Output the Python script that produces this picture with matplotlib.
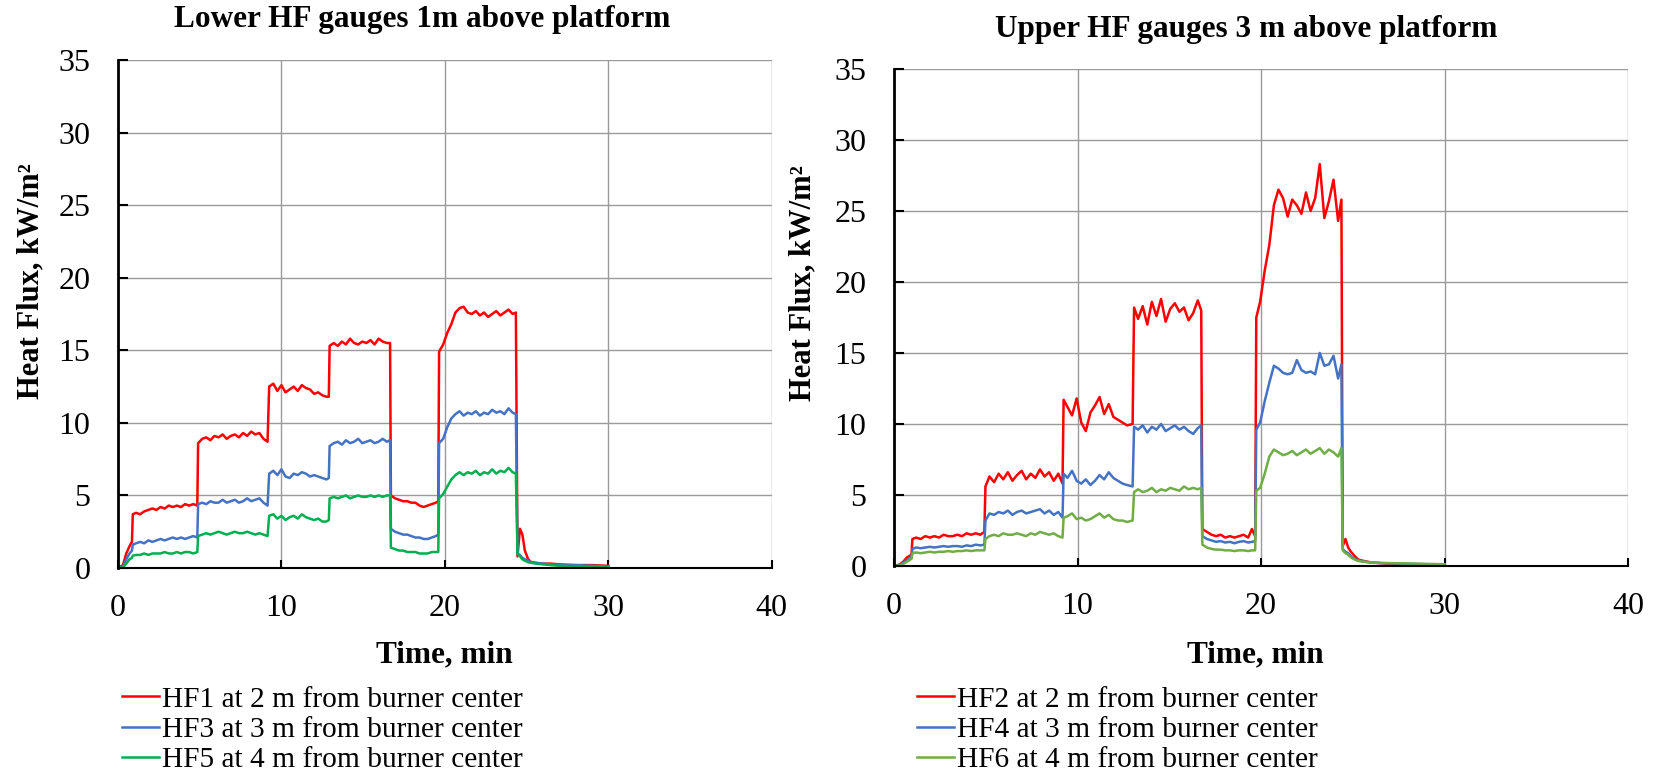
import matplotlib
matplotlib.use("Agg")
import matplotlib.pyplot as plt

plt.rcParams['font.family'] = ['Liberation Serif', 'DejaVu Serif']

# sample times (min), lower gauges panel
t_low = [0, 0.3, 0.5, 0.7, 0.85, 0.9,
         1.1, 1.35, 1.6, 1.85, 2.1, 2.35, 2.6, 2.85, 3.1, 3.35, 3.6, 3.85, 4.1, 4.35, 4.6, 4.85,
         4.9,
         5.15, 5.4, 5.65, 5.9, 6.15, 6.4, 6.65, 6.9, 7.15, 7.4, 7.65, 7.9, 8.15, 8.4, 8.65, 8.9, 9.15,
         9.25,
         9.5, 9.75, 10.0, 10.25, 10.5, 10.75, 11.0, 11.25, 11.5, 11.75, 12.0, 12.25, 12.5, 12.75, 12.9,
         12.95,
         13.2, 13.45, 13.7, 13.95, 14.2, 14.45, 14.7, 14.95, 15.2, 15.45, 15.7, 15.95, 16.2, 16.45, 16.65,
         16.7,
         16.95, 17.2, 17.45, 17.7, 17.95, 18.2, 18.45, 18.7, 18.95, 19.2, 19.45, 19.6,
         19.65,
         19.9, 20.15, 20.4, 20.65, 20.9, 21.15, 21.4, 21.65, 21.9, 22.15, 22.4, 22.65, 22.9, 23.15, 23.4,
         23.65, 23.9, 24.15, 24.35,
         24.45,
         24.6, 24.75, 24.9, 25.1, 25.3, 25.6, 26.0, 26.5, 27, 28, 29, 30]

hf1 = [0, 0.2, 1.0, 1.5, 1.8, 3.7,
       3.8, 3.7, 3.9, 4.0, 4.1, 4.0, 4.2, 4.1, 4.3, 4.2, 4.3, 4.2, 4.4, 4.3, 4.4, 4.3,
       8.6,
       8.9, 9.0, 8.8, 9.1, 9.0, 9.2, 8.9, 9.1, 9.2, 9.0, 9.3, 9.1, 9.4, 9.2, 9.3, 8.9, 8.7,
       12.5,
       12.7, 12.2, 12.6, 12.1, 12.3, 12.5, 12.2, 12.6, 12.4, 12.3, 12.0, 12.1, 11.9, 11.8, 11.8,
       15.3,
       15.5, 15.3, 15.6, 15.4, 15.8, 15.5, 15.4, 15.6, 15.5, 15.7, 15.4, 15.8, 15.6, 15.5, 15.5,
       5.0,
       4.8, 4.7, 4.6, 4.6, 4.5, 4.5, 4.3, 4.2, 4.3, 4.4, 4.5, 4.6,
       14.9,
       15.4, 16.2, 16.8, 17.6, 17.9, 18.0, 17.6, 17.5, 17.7, 17.4, 17.6, 17.3, 17.5, 17.7, 17.4,
       17.6, 17.8, 17.5, 17.6,
       0.8,
       2.7, 2.3, 1.2, 0.6, 0.4, 0.35, 0.3, 0.3, 0.25, 0.2, 0.2, 0.15]

hf3 = [0, 0.1, 0.6, 1.0, 1.2, 1.6,
       1.7, 1.8, 1.7, 1.9, 1.8, 1.9, 2.0, 1.9, 2.0, 2.1, 2.0, 2.1, 2.0, 2.1, 2.2, 2.1,
       4.4,
       4.5, 4.4, 4.6, 4.5, 4.5, 4.7, 4.5, 4.6, 4.7, 4.5, 4.6, 4.8, 4.6, 4.7, 4.8, 4.5, 4.3,
       6.5,
       6.7, 6.4, 6.8, 6.3, 6.2, 6.5, 6.4, 6.6, 6.5, 6.3, 6.4, 6.3, 6.2, 6.1, 6.2,
       8.4,
       8.6, 8.7, 8.5, 8.8, 8.6, 8.7, 8.9, 8.6, 8.7, 8.8, 8.6, 8.7, 8.9, 8.7, 8.8,
       2.7,
       2.5, 2.4, 2.3, 2.3, 2.2, 2.1, 2.1, 2.0, 2.0, 2.1, 2.2, 2.3,
       8.6,
       8.9, 9.7, 10.3, 10.6, 10.8, 10.5, 10.7, 10.6, 10.8, 10.5, 10.7, 10.6, 10.9, 10.7, 10.8,
       10.6, 11.0, 10.7, 10.6,
       1.0,
       0.9, 0.7, 0.6, 0.5, 0.4, 0.35, 0.3, 0.25, 0.2, 0.2, 0.15, 0.1]

hf5 = [0, 0.05, 0.3, 0.6, 0.7, 0.85,
       0.9, 0.9, 1.0, 0.9, 1.0, 1.0, 1.0, 1.1, 1.0, 1.0, 1.1, 1.0, 1.1, 1.1, 1.0, 1.1,
       2.2,
       2.3, 2.4, 2.3, 2.4, 2.5, 2.4, 2.3, 2.4, 2.5, 2.4, 2.4, 2.5, 2.4, 2.3, 2.4, 2.3, 2.2,
       3.6,
       3.7, 3.4, 3.6, 3.3, 3.5, 3.6, 3.4, 3.7, 3.5, 3.4, 3.3, 3.4, 3.2, 3.2, 3.3,
       4.8,
       4.9, 4.8, 4.9, 5.0, 4.8, 4.9, 5.0, 4.9, 4.9, 5.0, 4.9, 5.0, 4.9, 5.0, 5.0,
       1.4,
       1.3, 1.2, 1.2, 1.1, 1.1, 1.1, 1.0, 1.0, 1.0, 1.1, 1.1, 1.1,
       4.8,
       5.1, 5.6, 6.1, 6.4, 6.6, 6.4, 6.6, 6.5, 6.7, 6.4, 6.6, 6.5, 6.8, 6.5, 6.7,
       6.6, 6.9, 6.6, 6.5,
       1.0,
       0.8, 0.6, 0.5, 0.4, 0.35, 0.3, 0.25, 0.2, 0.15, 0.1, 0.1, 0.05]

# sample times (min), upper gauges panel
t_up = [0, 0.3, 0.5, 0.7, 0.95, 1.0,
        1.2, 1.45, 1.7, 1.95, 2.2, 2.45, 2.7, 2.95, 3.2, 3.45, 3.7, 3.95, 4.2, 4.45, 4.7, 4.92,
        4.98,
        5.2, 5.45, 5.7, 5.95, 6.2, 6.45, 6.7, 6.95, 7.2, 7.45, 7.7, 7.95, 8.2, 8.45, 8.7, 8.95, 9.18,
        9.24,
        9.45, 9.7, 9.95, 10.2, 10.45, 10.7, 10.95, 11.2, 11.45, 11.7, 11.95, 12.2, 12.45, 12.7, 13.0,
        13.08,
        13.3, 13.55, 13.8, 14.05, 14.3, 14.55, 14.8, 15.05, 15.3, 15.55, 15.8, 16.05, 16.3, 16.55, 16.74,
        16.8,
        17.05, 17.3, 17.55, 17.8, 18.05, 18.3, 18.55, 18.8, 19.05, 19.3, 19.5, 19.68,
        19.74,
        19.95, 20.2, 20.45, 20.7, 20.95, 21.2, 21.45, 21.7, 21.95, 22.2, 22.45, 22.7, 22.95, 23.2, 23.45,
        23.7, 23.95, 24.2, 24.38,
        24.45,
        24.6, 24.75, 24.9, 25.1, 25.3, 25.6, 26.0, 26.5, 27, 28, 29, 30]

hf2 = [0, 0.1, 0.3, 0.6, 0.8, 1.9,
       2.0, 1.9, 2.1, 2.0, 2.1, 2.0, 2.2, 2.1, 2.1, 2.2, 2.1, 2.3, 2.2, 2.3, 2.2, 2.4,
       5.6,
       6.3, 5.9, 6.5, 6.1, 6.6, 6.0, 6.4, 6.7, 6.1, 6.5, 6.2, 6.8, 6.3, 6.6, 6.0, 6.5, 5.8,
       11.7,
       11.2, 10.6, 11.8, 10.1, 9.5, 10.8, 11.3, 11.9, 10.7, 11.4, 10.5, 10.3, 10.1, 9.9, 10.0,
       18.2,
       17.4, 18.3, 17.0, 18.6, 17.6, 18.8, 17.2, 18.1, 18.5, 17.9, 18.2, 17.3, 17.8, 18.7, 18.0,
       2.6,
       2.4, 2.2, 2.1, 2.2, 2.0, 2.1, 2.0, 2.1, 2.2, 2.0, 2.6, 2.1,
       17.5,
       18.6, 20.8, 22.6, 25.4, 26.5, 25.9, 24.6, 25.8, 25.4, 24.8, 26.3, 25.0, 25.9, 28.3, 24.5,
       25.7, 27.2, 24.3, 25.8,
       1.4,
       1.9, 1.3, 1.0, 0.7, 0.45, 0.35, 0.25, 0.2, 0.15, 0.1, 0.08, 0.05]

hf4 = [0, 0.05, 0.2, 0.4, 0.6, 1.2,
       1.3, 1.25, 1.3, 1.35, 1.3, 1.35, 1.4, 1.35, 1.4, 1.4, 1.35, 1.45, 1.4, 1.5, 1.45, 1.5,
       3.2,
       3.7, 3.6, 3.8, 3.7, 3.9, 3.6, 3.8, 3.9, 3.7, 3.8, 3.9, 4.0, 3.7, 3.9, 3.6, 3.8, 3.4,
       6.5,
       6.2, 6.7, 6.0, 5.8, 6.1, 5.7, 6.0, 6.4, 6.1, 6.6, 6.2, 6.0, 5.8, 5.7, 5.6,
       9.8,
       9.6, 9.9, 9.4, 9.8, 9.6, 10.0, 9.5, 9.7, 9.9, 9.6, 9.8, 9.5, 9.3, 9.7, 9.9,
       2.1,
       1.9, 1.8, 1.7, 1.75, 1.65, 1.7, 1.6, 1.7, 1.75, 1.65, 1.7, 1.75,
       9.6,
       10.1, 11.6, 12.9, 14.1, 13.9, 13.6, 13.5, 13.6, 14.5, 13.8, 13.6, 13.7, 13.5, 15.0, 14.1,
       14.2, 14.8, 13.2, 14.2,
       1.2,
       1.0, 0.9, 0.7, 0.5, 0.4, 0.3, 0.25, 0.2, 0.18, 0.15, 0.12, 0.1]

hf6 = [0, 0.03, 0.15, 0.3, 0.5, 0.9,
       0.95, 0.9, 0.95, 1.0, 0.95, 1.0, 1.0, 1.05, 1.0, 1.05, 1.05, 1.1, 1.05, 1.1, 1.1, 1.1,
       1.9,
       2.1, 2.2, 2.1, 2.3, 2.2, 2.2, 2.3, 2.2, 2.1, 2.3, 2.2, 2.4, 2.3, 2.2, 2.3, 2.1, 2.0,
       3.4,
       3.5, 3.7, 3.3, 3.4, 3.2, 3.3, 3.5, 3.7, 3.4, 3.6, 3.3, 3.2, 3.2, 3.1, 3.2,
       5.2,
       5.4, 5.2, 5.3, 5.5, 5.2, 5.4, 5.3, 5.5, 5.4, 5.3, 5.6, 5.4, 5.5, 5.4, 5.5,
       1.5,
       1.3, 1.2, 1.15, 1.15, 1.1, 1.1, 1.05, 1.1, 1.1, 1.05, 1.1, 1.1,
       5.3,
       5.5, 6.5, 7.7, 8.2, 8.0, 7.8, 7.9, 8.1, 7.8, 8.0, 8.2, 7.9, 8.1, 8.3, 7.9,
       8.2, 8.0, 7.7, 8.3,
       1.1,
       0.9, 0.8, 0.6, 0.45, 0.35, 0.3, 0.25, 0.22, 0.2, 0.18, 0.15, 0.12]

labels_low = ['HF1 at 2 m from burner center', 'HF3 at 3 m from burner center',
              'HF5 at 4 m from burner center']
labels_up = ['HF2 at 2 m from burner center', 'HF4 at 3 m from burner center',
             'HF6 at 4 m from burner center']


def style_axes(ax):
    ax.set_xlim(0, 40)
    ax.set_ylim(0, 35)
    ax.set_xticks([0, 10, 20, 30, 40])
    ax.set_yticks(range(0, 36, 5))
    ax.grid(True, color='#9a9a9a', linewidth=1.0)
    ax.set_axisbelow(True)
    for s in ['top', 'right']:
        ax.spines[s].set_visible(False)
    ax.spines['left'].set_linewidth(2.0)
    ax.spines['bottom'].set_linewidth(1.5)
    ax.tick_params(axis='y', direction='in', length=7, width=1.5, labelsize=23, pad=20)
    ax.tick_params(axis='x', direction='in', length=6, width=1.5, labelsize=23, pad=19)


fig = plt.figure(figsize=(16.56, 7.8), dpi=100)

ax1 = fig.add_axes([0.0713, 0.2718, 0.3946, 0.6513])
l1, = ax1.plot(t_low, hf1, color='#ff0000', lw=1.8)
l2, = ax1.plot(t_low, hf3, color='#4472c4', lw=1.8)
l3, = ax1.plot(t_low, hf5, color='#00b050', lw=1.8)
style_axes(ax1)

ax2 = fig.add_axes([0.5399, 0.2744, 0.4432, 0.6372])
r1, = ax2.plot(t_up, hf2, color='#ff0000', lw=1.8)
r2, = ax2.plot(t_up, hf4, color='#4472c4', lw=1.8)
r3, = ax2.plot(t_up, hf6, color='#70ad47', lw=1.8)
style_axes(ax2)

# titles and axis labels
fig.text(422 / 1656, 1 - 19 / 780, 'Lower HF gauges 1m above platform', ha='center', va='center',
         fontsize=22.5, fontweight='bold')
fig.text(1246 / 1656, 1 - 30 / 780, 'Upper HF gauges 3 m above platform', ha='center', va='center',
         fontsize=22.5, fontweight='bold')
fig.text(444 / 1656, 1 - 655 / 780, 'Time, min', ha='center', va='center', fontsize=22.5, fontweight='bold')
fig.text(1255 / 1656, 1 - 655 / 780, 'Time, min', ha='center', va='center', fontsize=22.5, fontweight='bold')
fig.text(31 / 1656, 1 - 281 / 780, 'Heat Flux, kW/m²', ha='center', va='center', rotation=90,
         fontsize=22, fontweight='bold')
fig.text(803 / 1656, 1 - 283 / 780, 'Heat Flux, kW/m²', ha='center', va='center', rotation=90,
         fontsize=22, fontweight='bold')

fig.legend([l1, l2, l3], labels_low, loc='upper left', bbox_to_anchor=(122 / 1656, 1 - 686 / 780),
           frameon=False, fontsize=21.2, handlelength=1.25, handletextpad=0.1, labelspacing=0.13,
           borderpad=0, borderaxespad=0)
fig.legend([r1, r2, r3], labels_up, loc='upper left', bbox_to_anchor=(917 / 1656, 1 - 686 / 780),
           frameon=False, fontsize=21.2, handlelength=1.25, handletextpad=0.1, labelspacing=0.13,
           borderpad=0, borderaxespad=0)

fig.savefig('out.png', dpi=100)
